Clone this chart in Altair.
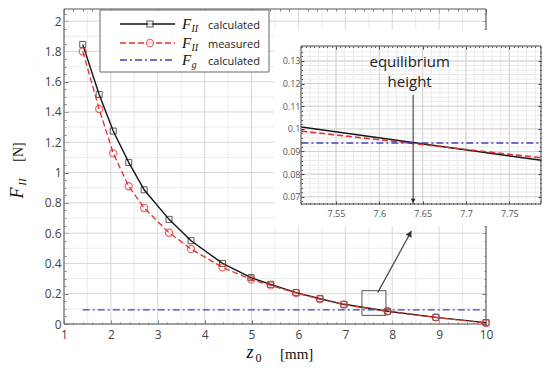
import altair as alt
import numpy as np
import pandas as pd

# ---------------- values ----------------
z0 = [1.40, 1.75, 2.05, 2.38, 2.71, 3.24, 3.71, 4.38, 4.99, 5.41, 5.95, 6.46, 6.97, 7.90, 8.93, 10.0]
f_calc = [1.846, 1.516, 1.274, 1.067, 0.886, 0.691, 0.550, 0.400, 0.306, 0.262, 0.207, 0.167, 0.130, 0.084, 0.044, 0.009]
f_meas = [1.800, 1.420, 1.127, 0.910, 0.766, 0.603, 0.495, 0.374, 0.295, 0.255, 0.205, 0.165, 0.128, 0.084, 0.044, 0.006]
fg_z = [1.40, 10.0]
fg_val = [0.0937, 0.0937]

# inset (zoom around the equilibrium point)
zoom_z = [7.51, 7.787]
zoom_calc = [0.1008, 0.0861]
zoom_meas = [0.0990, 0.0872]
zoom_fg = [0.0938, 0.0938]
eq_z = [7.639]
eq_top = [0.115]
eq_label = ["equilibrium", "height"]

# zoom box and arrow in the main plot
box_z = [7.354, 7.866]
box_f = [0.057, 0.220]
arrow_z = [7.69, 8.41]
arrow_f = [0.207, 0.614]

legend_sym = ["F", "F", "F"]
legend_sub = ["II", "II", "g"]
legend_txt = ["calculated", "measured", "calculated"]

x_ticks = [1, 2, 3, 4, 5, 6, 7, 8, 9, 10]
y_ticks = [0, 0.2, 0.4, 0.6, 0.8, 1, 1.2, 1.4, 1.6, 1.8, 2]
ix_ticks = [7.55, 7.6, 7.65, 7.7, 7.75]
iy_ticks = [0.07, 0.08, 0.09, 0.1, 0.11, 0.12, 0.13]


def steps(a, b, s, nd):
    return [float(v) for v in np.round(np.arange(a, b + s / 2, s), nd)]


x_minor_ticks = steps(1, 10, 0.2, 2)
y_minor_ticks = steps(0, 2.05, 0.05, 3)
x_minor_grid = steps(1.5, 9.5, 1.0, 2)
y_minor_grid = steps(0.1, 2.0, 0.2, 2)
ix_minor_ticks = steps(7.51, 7.785, 0.005, 3)
iy_minor_ticks = steps(0.068, 0.136, 0.002, 3)
ix_minor_grid = steps(7.51, 7.78, 0.01, 3)
iy_minor_grid = steps(0.068, 0.136, 0.002, 3)

# ---------------- layout ----------------
W, H = 534, 357
M_XD, M_YD = [1, 10], [0, 2.08]
M_XR, M_YR = [56, 478], [316, 1]
I_XD, I_YD = [7.5096, 7.7866], [0.0668, 0.1366]
I_XR, I_YR = [293, 533], [196, 38]

sx = alt.Scale(domain=M_XD, range=M_XR, nice=False, zero=False)
sy = alt.Scale(domain=M_YD, range=M_YR, nice=False, zero=False)
isx = alt.Scale(domain=I_XD, range=I_XR, nice=False, zero=False)
isy = alt.Scale(domain=I_YD, range=I_YR, nice=False, zero=False)

ONE = pd.DataFrame({"k": [0]})
df_main = pd.DataFrame({"z": z0, "calc": f_calc, "meas": f_meas})
df_fg = pd.DataFrame({"z": fg_z, "f": fg_val})
df_zoom = pd.DataFrame({"z": zoom_z, "calc": zoom_calc, "meas": zoom_meas, "fg": zoom_fg})


def vgrid(vals, xs, ys, ydom, color):
    return alt.Chart(pd.DataFrame({"v": vals})).mark_rule(color=color, strokeWidth=1).encode(
        x=alt.X("v:Q", scale=xs, axis=None),
        y=alt.YDatum(ydom[0], scale=ys, axis=None),
        y2=alt.Y2Datum(ydom[1]),
    )


def hgrid(vals, xs, ys, xdom, color):
    return alt.Chart(pd.DataFrame({"v": vals})).mark_rule(color=color, strokeWidth=1).encode(
        y=alt.Y("v:Q", scale=ys, axis=None),
        x=alt.XDatum(xdom[0], scale=xs, axis=None),
        x2=alt.X2Datum(xdom[1]),
    )


def frame_rect(xs, ys, xdom, ydom, stroke, **kw):
    return alt.Chart(ONE).mark_rect(stroke=stroke, strokeWidth=1, **kw).encode(
        x=alt.XDatum(xdom[0], scale=xs, axis=None),
        x2=alt.X2Datum(xdom[1]),
        y=alt.YDatum(ydom[0], scale=ys, axis=None),
        y2=alt.Y2Datum(ydom[1]),
    )


def tick_axis(orient, values, offset, size, color, labels=False, pad=0, fsize=12,
              lcolor="#444", z=0):
    kw = dict(orient=orient, values=values, offset=offset, tickSize=size, tickColor=color,
              tickWidth=1, domain=False, grid=False, labels=labels, title=None, zindex=z)
    if labels:
        kw.update(labelPadding=pad, labelFontSize=fsize, labelColor=lcolor,
                  labelFont="Open Sans", format="~r", labelFlush=False, labelOverlap=False)
    return alt.Axis(**kw)


def carrier(df, xf, yf, xs, ys, xaxis, yaxis):
    return alt.Chart(df).mark_point(opacity=0).encode(
        x=alt.X(xf, scale=xs, axis=xaxis), y=alt.Y(yf, scale=ys, axis=yaxis)
    )


def txt(text, x, y, size, font="Liberation Serif", style="normal", color="#111",
        angle=0, align="left", baseline="alphabetic"):
    return alt.Chart(pd.DataFrame({"t": [text]})).mark_text(
        font=font, fontSize=size, fontStyle=style, color=color, angle=angle,
        align=align, baseline=baseline
    ).encode(x=alt.value(x), y=alt.value(y), text="t:N")


BLACK, RED, BLUE = "#151515", "#e2302c", "#3e3ec4"
DASH_RED, DASH_BLUE = [6, 3], [7, 3, 2, 3]

# ---------------- main plot ----------------
ml = M_XR[0]
mb = H - M_YR[0]
main_layers = [
    vgrid(x_minor_grid, sx, sy, M_YD, "#ededed"),
    hgrid(y_minor_grid, sx, sy, M_XD, "#ededed"),
    vgrid(x_ticks, sx, sy, M_YD, "#d8d8d8"),
    hgrid(y_ticks, sx, sy, M_XD, "#d8d8d8"),
    frame_rect(sx, sy, M_XD, M_YD, "#555", fillOpacity=0),
    alt.Chart(df_fg).mark_line(color=BLUE, strokeWidth=1.3, strokeDash=DASH_BLUE).encode(
        x=alt.X("z:Q", scale=sx, axis=None), y=alt.Y("f:Q", scale=sy, axis=None)),
    alt.Chart(df_main).mark_line(color=BLACK, strokeWidth=1.4).encode(
        x=alt.X("z:Q", scale=sx, axis=None), y=alt.Y("calc:Q", scale=sy, axis=None)),
    alt.Chart(df_main).mark_point(shape="square", size=36, color=BLACK, strokeWidth=1).encode(
        x=alt.X("z:Q", scale=sx, axis=None), y=alt.Y("calc:Q", scale=sy, axis=None)),
    alt.Chart(df_main).mark_line(color=RED, strokeWidth=1.3, strokeDash=DASH_RED).encode(
        x=alt.X("z:Q", scale=sx, axis=None), y=alt.Y("meas:Q", scale=sy, axis=None)),
    alt.Chart(df_main).mark_point(shape="circle", size=52, color=RED, strokeWidth=1.2).encode(
        x=alt.X("z:Q", scale=sx, axis=None), y=alt.Y("meas:Q", scale=sy, axis=None)),
    frame_rect(sx, sy, box_z, box_f, "#555", fillOpacity=0),
    alt.Chart(pd.DataFrame({"x": [arrow_z[0]], "y": [arrow_f[0]], "x2": [arrow_z[1]], "y2": [arrow_f[1]]}))
    .mark_rule(color="#444", strokeWidth=1.2).encode(
        x=alt.X("x:Q", scale=sx, axis=None), y=alt.Y("y:Q", scale=sy, axis=None),
        x2="x2:Q", y2="y2:Q"),
    alt.Chart(pd.DataFrame({"x": [arrow_z[1] - 0.031], "y": [arrow_f[1] - 0.017]}))
    .mark_point(shape="triangle-up", filled=True, size=45, color="#333", angle=29, opacity=1).encode(
        x=alt.X("x:Q", scale=sx, axis=None), y=alt.Y("y:Q", scale=sy, axis=None)),
]

# legend
main_layers.append(alt.Chart(ONE).mark_rect(fill="white", stroke="#666", strokeWidth=1).encode(
    x=alt.value(92), x2=alt.value(261), y=alt.value(2), y2=alt.value(64)))
rows = [16, 35, 52]
styles = [
    dict(color=BLACK, shape="square", size=36, dash=[1, 0]),
    dict(color=RED, shape="circle", size=52, dash=DASH_RED),
    dict(color=BLUE, shape=None, size=0, dash=DASH_BLUE),
]
for i, ry in enumerate(rows):
    st = styles[i]
    main_layers.append(alt.Chart(ONE).mark_rule(color=st["color"], strokeWidth=1.3, strokeDash=st["dash"]).encode(
        x=alt.value(112), x2=alt.value(167), y=alt.value(ry)))
    if st["shape"]:
        main_layers.append(alt.Chart(ONE).mark_point(shape=st["shape"], size=st["size"], color=st["color"],
                                                     strokeWidth=1.2, fill="white", filled=False).encode(
            x=alt.value(142), y=alt.value(ry)))
    main_layers.append(txt(legend_sym[i], 174, ry + 5, 15, style="italic"))
    main_layers.append(txt(legend_sub[i], 183.5, ry + 8, 10, style="italic"))
    main_layers.append(txt(legend_txt[i], 200, ry + 4.5, 11, font="Open Sans", color="#222"))

# axis titles
main_layers += [
    txt("F", 15, 185, 18, style="italic", angle=270, align="center"),
    txt("II", 18, 174, 11, style="italic", angle=270, align="center"),
    txt("[N]", 15, 144, 14, angle=270, align="center"),
    txt("z", 238.5, 350, 18, style="italic"),
    txt("0", 247.5, 353.5, 12),
    txt("[mm]", 272, 351, 15),
]

# axes (ticks inward)
main_layers += [
    carrier(df_main, "z:Q", "calc:Q", sx, sy,
            tick_axis("bottom", x_ticks, -mb - 4, 4, "#555", labels=True, pad=5, fsize=12),
            tick_axis("left", y_ticks, -ml - 4, 4, "#555", labels=True, pad=3, fsize=12)),
    carrier(df_main, "z:Q", "calc:Q", sx, sy,
            tick_axis("bottom", x_minor_ticks, -mb - 2, 2, "#777"),
            tick_axis("left", y_minor_ticks, -ml - 2, 2, "#777")),
    carrier(df_main, "z:Q", "calc:Q", sx, sy,
            tick_axis("top", x_ticks, -(M_YR[1] + 4), 4, "#555"),
            tick_axis("right", y_ticks, -(W - M_XR[1] + 4), 4, "#555")),
    carrier(df_main, "z:Q", "calc:Q", sx, sy,
            tick_axis("top", x_minor_ticks, -(M_YR[1] + 2), 2, "#777"),
            tick_axis("right", y_minor_ticks, -(W - M_XR[1] + 2), 2, "#777")),
]
main = alt.layer(*main_layers).resolve_axis(x="independent", y="independent")

# ---------------- inset ----------------
il = I_XR[0]
ib = H - I_YR[0]
inset_layers = [
    alt.Chart(ONE).mark_rect(color="white").encode(
        x=alt.value(266), x2=alt.value(W), y=alt.value(22), y2=alt.value(218)),
    vgrid(ix_minor_grid, isx, isy, I_YD, "#ececec"),
    hgrid(iy_minor_grid, isx, isy, I_XD, "#ececec"),
    vgrid(ix_ticks, isx, isy, I_YD, "#d2d2d2"),
    hgrid(iy_ticks, isx, isy, I_XD, "#d2d2d2"),
    alt.Chart(df_zoom).mark_line(color=BLACK, strokeWidth=1.5).encode(
        x=alt.X("z:Q", scale=isx, axis=None), y=alt.Y("calc:Q", scale=isy, axis=None)),
    alt.Chart(df_zoom).mark_line(color=RED, strokeWidth=1.6, strokeDash=DASH_RED).encode(
        x=alt.X("z:Q", scale=isx, axis=None), y=alt.Y("meas:Q", scale=isy, axis=None)),
    alt.Chart(df_zoom).mark_line(color=BLUE, strokeWidth=1.5, strokeDash=DASH_BLUE).encode(
        x=alt.X("z:Q", scale=isx, axis=None), y=alt.Y("fg:Q", scale=isy, axis=None)),
    alt.Chart(pd.DataFrame({"x": eq_z, "y": eq_top, "y2": [I_YD[0]]})).mark_rule(color="#333", strokeWidth=1).encode(
        x=alt.X("x:Q", scale=isx, axis=None), y=alt.Y("y:Q", scale=isy, axis=None), y2="y2:Q"),
    alt.Chart(pd.DataFrame({"x": eq_z, "y": [I_YD[0] + 0.0014]})).mark_point(
        shape="triangle-down", filled=True, size=22, color="#222", opacity=1).encode(
        x=alt.X("x:Q", scale=isx, axis=None), y=alt.Y("y:Q", scale=isy, axis=None)),
    alt.Chart(pd.DataFrame({"x": [7.635, 7.635], "y": [0.1297, 0.1209], "t": eq_label})).mark_text(
        font="Open Sans", fontSize=15, color="#222", align="center", baseline="middle").encode(
        x=alt.X("x:Q", scale=isx, axis=None), y=alt.Y("y:Q", scale=isy, axis=None), text="t:N"),
    frame_rect(isx, isy, I_XD, I_YD, "#444", fillOpacity=0),
    carrier(df_zoom, "z:Q", "calc:Q", isx, isy,
            tick_axis("bottom", ix_ticks, -ib - 3, 3, "#444", labels=True, pad=5, fsize=9, lcolor="#555", z=1),
            tick_axis("left", iy_ticks, -il - 3, 3, "#444", labels=True, pad=1, fsize=9, lcolor="#555", z=1)),
    carrier(df_zoom, "z:Q", "calc:Q", isx, isy,
            tick_axis("bottom", ix_minor_ticks, -ib - 1.5, 1.5, "#555", z=1),
            tick_axis("left", iy_minor_ticks, -il - 1.5, 1.5, "#555", z=1)),
    carrier(df_zoom, "z:Q", "calc:Q", isx, isy,
            tick_axis("top", ix_ticks, -(I_YR[1] + 3), 3, "#444", z=1),
            tick_axis("right", iy_ticks, -(W - I_XR[1] + 3), 3, "#444", z=1)),
    carrier(df_zoom, "z:Q", "calc:Q", isx, isy,
            tick_axis("top", ix_minor_ticks, -(I_YR[1] + 1.5), 1.5, "#555", z=1),
            tick_axis("right", iy_minor_ticks, -(W - I_XR[1] + 1.5), 1.5, "#555", z=1)),
]
inset = alt.layer(*inset_layers).resolve_axis(x="independent", y="independent")

chart = (
    alt.layer(main, inset)
    .resolve_scale(x="independent", y="independent")
    .properties(width=W, height=H, padding=0, autosize=alt.AutoSizeParams(type="none"),
                background="white")
    .configure_view(strokeWidth=0)
)

chart.save("out.html", embed_options={"renderer": "svg", "actions": False})
